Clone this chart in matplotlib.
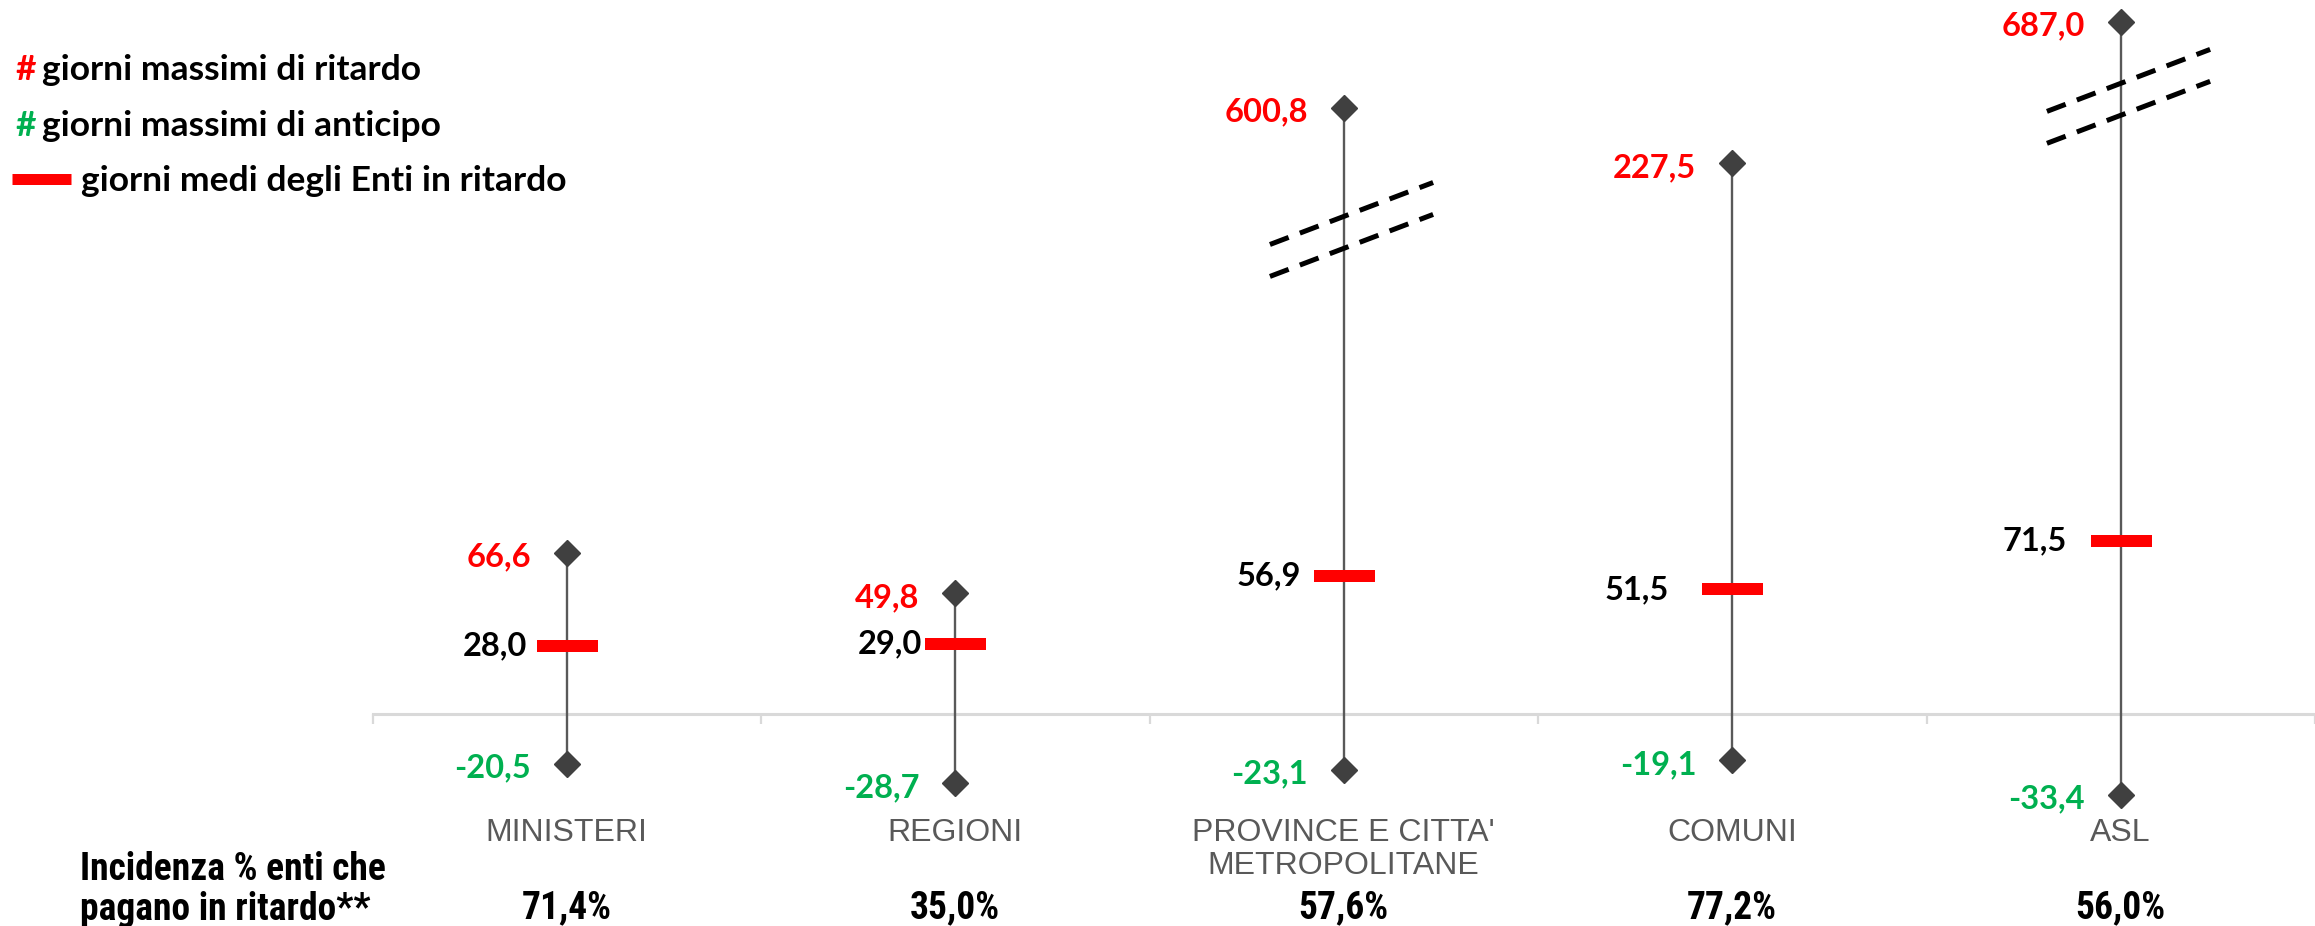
import matplotlib.pyplot as plt
from matplotlib.lines import Line2D

categories = ["MINISTERI", "REGIONI", "PROVINCE E CITTA'\nMETROPOLITANE", "COMUNI", "ASL"]
max_delay = [66.6, 49.8, 600.8, 227.5, 687.0]    # giorni massimi di ritardo
max_advance = [-20.5, -28.7, -23.1, -19.1, -33.4]  # giorni massimi di anticipo
mean_delay = [28.0, 29.0, 56.9, 51.5, 71.5]      # giorni medi degli Enti in ritardo
late_share = ["71,4%", "35,0%", "57,6%", "77,2%", "56,0%"]

# axis break: where the scale is cut and how much the part above is squeezed
break_at = [None, None, 199, None, 254]
squeeze = [1, 1, 0.128, 1, 0.074]

RED = "#ff0000"
GREEN = "#00b050"
W, H = 2315, 926
PX = 0.72  # points per pixel at dpi 100

BOLD = ["Lato", "DejaVu Sans"]
NARROW = ["Liberation Sans Narrow", "Roboto Condensed", "Open Sans Condensed", "Noto Sans Condensed",
          "DejaVu Sans Condensed", "Liberation Sans", "DejaVu Sans"]
ARIAL = ["Liberation Sans", "DejaVu Sans"]


def fmt(v):
    return f"{v:.1f}".replace(".", ",")


def shown(i, v):
    # position on the drawn scale, compressed above the break
    b = break_at[i]
    if b is None or v <= b:
        return v
    return b + (v - b) * squeeze[i]


fig = plt.figure(figsize=(W / 100, H / 100), dpi=100)
ax = fig.add_axes([372.5 / W, 0, 1 - 372.5 / W, 1])
ax.set_xlim(-0.5, (W - 568) / 391)
ax.set_ylim(-(H - 714) / 2.42, 714 / 2.42)

xs = list(range(len(categories)))
tops = [shown(i, v) for i, v in enumerate(max_delay)]

# whiskers
ax.vlines(xs, max_advance, tops, color="#595959", lw=1.7, zorder=2)
ax.plot(xs, tops, "D", color="#404040", ms=13, zorder=3, clip_on=False)
ax.plot(xs, max_advance, "D", color="#404040", ms=13, zorder=3)
ax.plot(xs, mean_delay, "_", color=RED, ms=61 * PX, mew=12 * PX, zorder=4)

# axis line with category separators
for s in ["top", "right", "left"]:
    ax.spines[s].set_visible(False)
ax.spines["bottom"].set_position(("data", 0))
ax.spines["bottom"].set_color("#d9d9d9")
ax.spines["bottom"].set_linewidth(2.2)
ax.spines["bottom"].set_zorder(1)
ax.set_xticks([i - 0.5 for i in range(len(categories) + 1)])
ax.tick_params(axis="x", direction="out", length=7, width=1.6, color="#d9d9d9", labelbottom=False)
ax.set_yticks([])

# break marks
for i, b in enumerate(break_at):
    if b is None:
        continue
    for off in (6.6, -6.6):
        x0, x1 = i - 0.19, i + 0.23
        ax.plot([x0, x1], [b + off - 0.19 * 61, b + off + 0.23 * 61], color="black",
                lw=3.6, dashes=(4, 2.4), solid_capstyle="butt", dash_capstyle="butt", zorder=5)

# value labels
mean_dx = [40, 33, 43, 63, 54]
for i in xs:
    ax.annotate(fmt(max_delay[i]), (i, tops[i]), xytext=(-36 * PX, -3), textcoords="offset points",
                ha="right", va="center", color=RED, fontsize=23.5, fontweight="bold", family=BOLD)
    ax.annotate(fmt(max_advance[i]), (i, max_advance[i]), xytext=(-36 * PX, -3), textcoords="offset points",
                ha="right", va="center", color=GREEN, fontsize=23.5, fontweight="bold", family=BOLD)
    ax.annotate(fmt(mean_delay[i]), (i, mean_delay[i]), xytext=(-mean_dx[i] * PX, 0), textcoords="offset points",
                ha="right", va="center", color="black", fontsize=23.5, fontweight="bold", family=BOLD)

# category names and share of late payers
tr = ax.get_xaxis_transform()
for i in xs:
    ax.text(i, 1 - 818 / H, categories[i], transform=tr, ha="center", va="top", color="#595959",
            fontsize=23, family=ARIAL, linespacing=1.15)
    ax.text(i, 1 - 908 / H, late_share[i], transform=tr, ha="center", va="center", color="black",
            fontsize=27, fontweight="bold", family=NARROW)

fig.text(80 / W, 1 - 870 / H, "Incidenza % enti che", ha="left", va="center", fontsize=27,
         fontweight="bold", family=NARROW)
fig.text(80 / W, 1 - 910 / H, "pagano in ritardo**", ha="left", va="center", fontsize=27,
         fontweight="bold", family=NARROW)

# legend
LEG = 25.5
fig.text(15 / W, 1 - 70 / H, "#", color=RED, ha="left", va="center", fontsize=LEG, fontweight="bold", family=BOLD)
fig.text(42 / W, 1 - 70 / H, "giorni massimi di ritardo", ha="left", va="center", fontsize=LEG,
         fontweight="bold", family=BOLD)
fig.text(15 / W, 1 - 126 / H, "#", color=GREEN, ha="left", va="center", fontsize=LEG, fontweight="bold", family=BOLD)
fig.text(42 / W, 1 - 126 / H, "giorni massimi di anticipo", ha="left", va="center", fontsize=LEG,
         fontweight="bold", family=BOLD)
fig.add_artist(Line2D([12 / W, 71 / W], [1 - 178.5 / H] * 2, color=RED, lw=11 * PX,
                      solid_capstyle="butt", transform=fig.transFigure))
fig.text(81 / W, 1 - 181 / H, "giorni medi degli Enti in ritardo", ha="left", va="center", fontsize=LEG,
         fontweight="bold", family=BOLD)

fig.savefig("out.png", dpi=100, facecolor="white")
